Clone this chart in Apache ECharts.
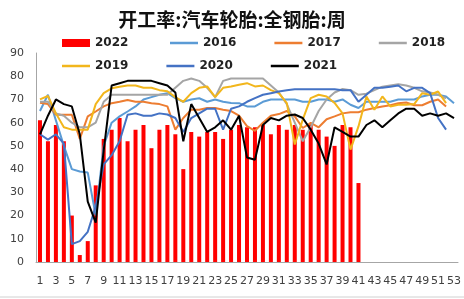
<!DOCTYPE html>
<html>
<head>
<meta charset="utf-8">
<script src="https://cdn.jsdelivr.net/npm/echarts@6/dist/echarts.min.js"></script>
<style>
  html, body { margin: 0; padding: 0; background: #fff; }
  #chart { width: 464px; height: 299px; }
</style>
</head>
<body>
<div id="chart"></div>
<script>
const weeks = ['1','2','3','4','5','6','7','8','9','10','11','12','13','14','15','16','17','18','19','20',
  '21','22','23','24','25','26','27','28','29','30','31','32','33','34','35','36','37','38','39','40',
  '41','42','43','44','45','46','47','48','49','50','51','52','53'];

const y2022 = [61,52,59,52,20,3,9,33,53,57,62,52,57,59,49,57,59,55,40,56,54,56,56,53,57,59,58,58,59,55,
  59,57,59,57,59,57,54,50,59,58,34];
const y2016 = [65,72,61,50,40,39,38.5,20,50,60,62.7,64.8,67,70,71,72,72.7,70.6,69,70,
  70.5,69,70,69,68.5,68.4,67,67,69,70,70,70,70,69,69,70,70,69,70,67.7,
  66.3,69,69,69,69,70,70,70,71.3,72,72,71.3,68.4];
const y2017 = [68.6,68,63.4,63.4,63.4,53,62.7,64.8,67,68.4,69,69.8,69,69,68.4,68,67,57,62,65.6,
  65.6,66.3,66.3,65.6,65,63,58.5,56.5,60,63,63.7,65,62.7,57.7,59.9,58,61.5,62.7,64,64.5,
  64.5,65.6,66.3,67,67.5,68.4,68.7,67.5,67.5,69,70,67];
const y2018 = [69,69,64,63,60,58,58,60,69,72,72,72,72,72,72,72,72,75,78,79,
  78,75,71,78,79,79,79,79,79,76,73,68,60,52,58,65,70,73,74.5,74,
  72,72.5,74,75.5,76,76.5,76,75,73.5,73,72,70.5];
const y2019 = [70,71.5,64,58,57,57,57,68,72.7,74.8,75.5,76,76,75,75,74,73.5,71,69,72.7,
  75,75.6,71,75,75.6,76.3,77,75.6,76,74,72.7,68.4,50.6,61.3,70.6,72,71.3,68.5,64,48.4,
  58.4,71.3,65.6,71.3,67,67.7,67.7,68,72.7,72,73.4,68.4];
const y2020 = [55,52.7,55,51,7.7,9,13,24,42,46,52,63.4,64,63,63,64,63.5,62,56,62,
  64,66,66,57,66,67,69,70.6,72,72.7,73.4,74,74.4,74.4,74.4,74.4,74.4,74.4,74,74,
  69,72,75,75,75.5,76,73.5,75,75,72.7,62,57];
const y2021 = [55,63,70,68,67,55,26,17,48,76,77,78,78,78,78,77,76,73,52,68,
  62,56,58,61,57,63,45,44,59,62,61,63,63.5,62,57,51,42,58,56,54,
  54,59,61,58,61,64,66,66,63,64,63,64,62];

const lineSeries = [
  { name: '2016', data: y2016, color: '#5B9BD5' },
  { name: '2017', data: y2017, color: '#ED7D31' },
  { name: '2018', data: y2018, color: '#A5A5A5' },
  { name: '2019', data: y2019, color: '#F2B61C' },
  { name: '2020', data: y2020, color: '#4472C4' },
  { name: '2021', data: y2021, color: '#000000' },
];

const chart = echarts.init(document.getElementById('chart'));

const legendText = {
  fontFamily: 'DejaVu Sans',
  fontSize: 12,
  fontWeight: 'bold',
  color: '#222',
  width: 36,
};

// one legend for the bar, two for the lines (thin rect icons)
const legendBase = {
  itemWidth: 28,
  itemGap: 38,
  textStyle: legendText,
};

const option = {
  animation: false,
  title: {
    text: '开工率:汽车轮胎:全钢胎:周',
    left: 'center',
    top: 5,
    textStyle: {
      fontFamily: 'Noto Sans CJK SC',
      fontSize: 19,
      fontWeight: 'bold',
      color: '#111',
    },
  },
  legend: [
    { ...legendBase, data: ['2022'], left: 57, top: 32, itemHeight: 8, icon: 'rect' },
    { ...legendBase, data: ['2016', '2017', '2018'], left: 165, top: 32, itemHeight: 2.5, icon: 'rect' },
    { ...legendBase, data: ['2019', '2020', '2021'], left: 57, top: 55, itemHeight: 2.5, icon: 'rect' },
  ],
  grid: {
    left: 36,
    right: 4,
    top: 53,
    bottom: 37,
  },
  xAxis: {
    type: 'category',
    data: weeks,
    axisLine: { lineStyle: { color: '#a6a6a6' } },
    axisTick: { show: false },
    axisLabel: {
      interval: 1,
      margin: 14,
      fontFamily: 'DejaVu Sans',
      fontSize: 11,
      color: '#404040',
    },
  },
  yAxis: {
    type: 'value',
    min: 0,
    max: 90,
    interval: 10,
    axisLine: { show: true, lineStyle: { color: '#a6a6a6' } },
    axisTick: { show: false },
    splitLine: { show: false },
    axisLabel: {
      margin: 12,
      fontFamily: 'DejaVu Sans',
      fontSize: 11,
      color: '#404040',
    },
  },
  series: [
    {
      name: '2022',
      type: 'bar',
      data: y2022,
      barWidth: 4,
      itemStyle: { color: '#ff0000' },
    },
    ...lineSeries.map((s) => ({
      name: s.name,
      type: 'line',
      data: s.data,
      symbol: 'none',
      color: s.color,
      lineStyle: { width: 2, color: s.color },
    })),
  ],
  graphic: [
    {
      type: 'line',
      shape: { x1: 0, y1: 297, x2: 464, y2: 297 },
      style: { stroke: '#d0d0d0', lineWidth: 1 },
    },
  ],
};

chart.setOption(option);
</script>
</body>
</html>
